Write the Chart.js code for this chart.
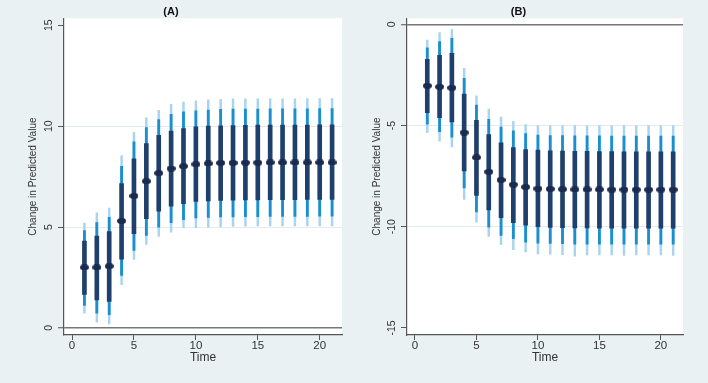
<!DOCTYPE html>
<html>
<head>
<meta charset="utf-8">
<script src="https://cdn.jsdelivr.net/npm/chart.js@4.4.1/dist/chart.umd.min.js"></script>
<style>
  html, body { margin: 0; padding: 0; background: #eaf1f3; }
  #wrap { width: 708px; height: 383px; display: flex; }
  canvas { display: block; }
</style>
</head>
<body>
<div id="wrap">
  <canvas id="chartA" width="354" height="383"></canvas>
  <canvas id="chartB" width="354" height="383"></canvas>
</div>
<script>
// time points and tick labels
var time = [1, 2, 3, 4, 5, 6, 7, 8, 9, 10, 11, 12, 13, 14, 15, 16, 17, 18, 19, 20, 21];
var xTicks = [0, 5, 10, 15, 20];
var yTicksA = [0, 5, 10, 15];
var yTicksB = [-15, -10, -5, 0];

// panel A: point estimate and three nested intervals
var aEst     = [3.00, 3.00, 3.06, 5.30, 6.54, 7.27, 7.67, 7.90, 8.01, 8.11, 8.15, 8.18, 8.18, 8.19, 8.19, 8.20, 8.20, 8.20, 8.20, 8.20, 8.20];
var aDarkLo  = [1.66, 1.39, 1.32, 3.41, 4.67, 5.41, 5.79, 6.03, 6.16, 6.27, 6.30, 6.32, 6.33, 6.35, 6.35, 6.36, 6.36, 6.36, 6.37, 6.37, 6.37];
var aDarkHi  = [4.30, 4.55, 4.78, 7.15, 8.38, 9.14, 9.54, 9.75, 9.88, 9.97, 10.00, 10.02, 10.03, 10.04, 10.05, 10.05, 10.05, 10.05, 10.05, 10.06, 10.06];
var aMidLo   = [1.11, 0.73, 0.66, 2.60, 3.84, 4.59, 5.00, 5.22, 5.36, 5.45, 5.48, 5.50, 5.50, 5.52, 5.52, 5.53, 5.53, 5.53, 5.53, 5.54, 5.54];
var aMidHi   = [4.83, 5.22, 5.48, 8.01, 9.22, 9.93, 10.33, 10.58, 10.71, 10.76, 10.80, 10.83, 10.84, 10.85, 10.85, 10.86, 10.86, 10.86, 10.86, 10.87, 10.87];
var aLightLo = [0.73, 0.28, 0.20, 2.14, 3.39, 4.14, 4.54, 4.75, 4.97, 4.97, 5.00, 5.02, 5.03, 5.04, 5.05, 5.05, 5.05, 5.05, 5.05, 5.05, 5.06];
var aLightHi = [5.20, 5.71, 5.94, 8.54, 9.70, 10.41, 10.79, 11.08, 11.19, 11.26, 11.30, 11.33, 11.35, 11.35, 11.36, 11.36, 11.36, 11.36, 11.37, 11.37, 11.37];

// panel B
var bEst     = [-3.04, -3.09, -3.14, -5.35, -6.58, -7.29, -7.69, -7.92, -8.04, -8.12, -8.14, -8.15, -8.16, -8.16, -8.16, -8.17, -8.17, -8.17, -8.17, -8.17, -8.17];
var bDarkLo  = [-4.37, -4.62, -4.82, -7.24, -8.45, -9.17, -9.55, -9.80, -9.93, -10.00, -10.03, -10.05, -10.06, -10.06, -10.07, -10.07, -10.07, -10.07, -10.07, -10.07, -10.07];
var bDarkHi  = [-1.73, -1.53, -1.44, -3.45, -4.74, -5.45, -5.86, -6.09, -6.19, -6.22, -6.25, -6.27, -6.28, -6.28, -6.29, -6.29, -6.30, -6.30, -6.30, -6.30, -6.30];
var bMidLo   = [-4.93, -5.31, -5.58, -8.09, -9.27, -10.02, -10.43, -10.59, -10.76, -10.81, -10.83, -10.84, -10.86, -10.86, -10.86, -10.86, -10.86, -10.86, -10.86, -10.86, -10.86];
var bMidHi   = [-1.16, -0.86, -0.69, -2.67, -3.99, -4.69, -5.08, -5.26, -5.40, -5.48, -5.50, -5.50, -5.51, -5.51, -5.51, -5.52, -5.52, -5.52, -5.52, -5.52, -5.52];
var bLightLo = [-5.35, -5.78, -6.06, -8.65, -9.77, -10.48, -10.89, -11.14, -11.25, -11.34, -11.36, -11.38, -11.45, -11.40, -11.40, -11.40, -11.42, -11.40, -11.40, -11.40, -11.42];
var bLightHi = [-0.78, -0.41, -0.26, -2.18, -3.53, -4.19, -4.59, -4.79, -4.95, -5.02, -5.00, -5.00, -5.00, -5.00, -5.00, -5.00, -5.00, -5.00, -5.00, -5.00, -5.00];

var FONT = "'Liberation Sans', Arial, sans-serif";
Chart.defaults.font.family = FONT;

// flattened dot used as point marker
var dot = document.createElement("canvas");
dot.width = 9; dot.height = 6;
var dctx = dot.getContext("2d");
dctx.fillStyle = "#1b2a4f";
dctx.beginPath();
dctx.ellipse(4.5, 3, 4.5, 3, 0, 0, Math.PI * 2);
dctx.fill();

// white plot region
var plotBg = {
  id: "plotBg",
  beforeDraw: function(chart) {
    var a = chart.chartArea, ctx = chart.ctx;
    ctx.save();
    ctx.fillStyle = "#ffffff";
    ctx.fillRect(a.left, a.top, a.right - a.left, a.bottom - a.top);
    ctx.restore();
  }
};

// vertical y tick labels, stata style
var yLabels = {
  id: "yLabels",
  afterDraw: function(chart) {
    var ctx = chart.ctx, y = chart.scales.y;
    ctx.save();
    ctx.fillStyle = "#333";
    ctx.font = "10.5px " + FONT;
    ctx.textAlign = "center";
    ctx.textBaseline = "middle";
    y.ticks.forEach(function(t) {
      ctx.save();
      ctx.translate(chart.chartArea.left - 15, y.getPixelForValue(t.value));
      ctx.rotate(-Math.PI / 2);
      ctx.fillText(String(t.value), 0, 0);
      ctx.restore();
    });
    ctx.restore();
  }
};

function spans(lo, hi) {
  return time.map(function(t, i) { return { x: t, y: [lo[i], hi[i]] }; });
}

function makePanel(id, p) {
  var ctx = document.getElementById(id).getContext("2d");
  return new Chart(ctx, {
    type: "bar",
    data: {
      datasets: [
        { type: "scatter", data: time.map(function(t, i) { return { x: t, y: p.est[i] }; }),
          pointStyle: dot, pointRadius: 4.5, order: 0 },
        { type: "bar", data: spans(p.darkLo, p.darkHi), backgroundColor: "#1f3f6c",
          barThickness: 4, stack: "ci", order: 1 },
        { type: "bar", data: spans(p.midLo, p.midHi), backgroundColor: "#1a8fcf",
          barThickness: 2.2, stack: "ci", order: 2 },
        { type: "bar", data: spans(p.lightLo, p.lightHi), backgroundColor: "#a9d4ef",
          barThickness: 1.8, stack: "ci", order: 3 }
      ]
    },
    options: {
      responsive: false,
      animation: false,
      layout: { padding: { left: 0, right: p.padRight, top: 0, bottom: 0 } },
      plugins: {
        legend: { display: false },
        tooltip: { enabled: false },
        title: {
          display: true,
          text: p.title,
          color: "#111",
          font: { size: 11, weight: "bold" },
          padding: { top: 5, bottom: 0 }
        }
      },
      scales: {
        x: {
          type: "linear",
          min: -0.65,
          max: 21.8,
          offset: false,
          afterBuildTicks: function(s) { s.ticks = xTicks.map(function(v) { return { value: v }; }); },
          afterFit: function(s) { s.height = 48; },
          grid: { display: true, drawOnChartArea: false, offset: false, tickLength: 5, tickColor: "#555", tickWidth: 1 },
          border: { color: "#555", width: 1.2 },
          ticks: { color: "#333", font: { size: 11.5 }, padding: -1, maxRotation: 0 },
          title: { display: true, text: "Time", color: "#333", font: { size: 12 }, padding: { top: 0, bottom: 18 } }
        },
        y: {
          type: "linear",
          stacked: false,
          min: p.yMin,
          max: p.yMax,
          afterBuildTicks: function(s) { s.ticks = p.yTicks.map(function(v) { return { value: v }; }); },
          afterFit: function(s) { s.width = p.axisW; },
          grid: {
            color: function(c) {
              var v = c.tick ? c.tick.value : null;
              if (v === 0) return "#777";
              if (v === 15 || v === -15) return "rgba(0,0,0,0)";
              return "#e3ebef";
            },
            lineWidth: function(c) { return c.tick && c.tick.value === 0 ? 1.5 : 1; },
            tickLength: 6, tickColor: "#555", tickWidth: 1
          },
          border: { color: "#555", width: 1.2 },
          ticks: { display: false },
          title: { display: true, text: "Change in Predicted Value", color: "#333", font: { size: 10 }, padding: { top: p.titlePad, bottom: 0 } }
        }
      }
    },
    plugins: [plotBg, yLabels]
  });
}

makePanel("chartA", {
  title: "(A)", yMin: -0.35, yMax: 15.35, yTicks: yTicksA, axisW: 64, titlePad: 27, padRight: 12,
  est: aEst, darkLo: aDarkLo, darkHi: aDarkHi, midLo: aMidLo, midHi: aMidHi, lightLo: aLightLo, lightHi: aLightHi
});

makePanel("chartB", {
  title: "(B)", yMin: -15.35, yMax: 0.3, yTicks: yTicksB, axisW: 53, titlePad: 17, padRight: 25,
  est: bEst, darkLo: bDarkLo, darkHi: bDarkHi, midLo: bMidLo, midHi: bMidHi, lightLo: bLightLo, lightHi: bLightHi
});
</script>
</body>
</html>
